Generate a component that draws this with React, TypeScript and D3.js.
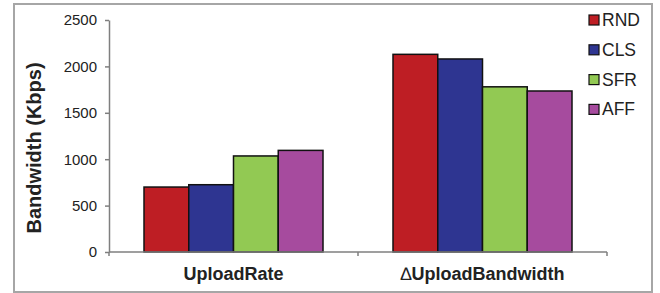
import { useEffect, useRef } from 'react';
import * as d3 from 'd3';

const categories = ['UploadRate', 'UploadBandwidth'];
const series = ['RND', 'CLS', 'SFR', 'AFF'];
const colors = ['#BE1E24', '#2E3591', '#92C953', '#A64B9E'];
const values = [
  [700, 2130],
  [725, 2080],
  [1035, 1780],
  [1095, 1735],
];
const yTicks = [0, 500, 1000, 1500, 2000, 2500];

const App = () => {
  const svgRef = useRef<SVGSVGElement>(null);

  useEffect(() => {
    const svg = d3.select(svgRef.current);
    svg.selectAll('*').remove();

    const width = 660;
    const height = 293;
    const marginLeft = 109;
    const marginRight = 53;
    const marginTop = 20;
    const marginBottom = 41;
    const font = 'Arial, "Liberation Sans", sans-serif';

    svg.attr('width', width).attr('height', height);

    // outer frame
    svg.append('rect')
      .attr('x', 14).attr('y', 4)
      .attr('width', 638).attr('height', 288)
      .attr('fill', 'white')
      .attr('stroke', '#a6a6a6')
      .attr('stroke-width', 2);

    const x = d3.scaleBand()
      .domain(categories)
      .range([marginLeft, width - marginRight])
      .paddingInner(0)
      .paddingOuter(0);

    const inner = d3.scaleBand()
      .domain(series)
      .range([35, x.bandwidth() - 35]);

    const y = d3.scaleLinear()
      .domain([0, 2500])
      .range([height - marginBottom, marginTop]);

    // bars
    series.forEach((s, si) => {
      svg.append('g')
        .selectAll('rect')
        .data(categories)
        .join('rect')
          .attr('x', c => x(c)! + inner(s)!)
          .attr('y', (c, ci) => y(values[si][ci]))
          .attr('width', inner.bandwidth())
          .attr('height', (c, ci) => y(0) - y(values[si][ci]))
          .attr('fill', colors[si])
          .attr('stroke', '#111')
          .attr('stroke-width', 1.5);
    });

    // y axis
    const yAxis = svg.append('g')
      .attr('transform', `translate(${marginLeft},0)`)
      .call(d3.axisLeft(y).tickValues(yTicks).tickFormat(d3.format('d'))
        .tickSize(4).tickPadding(8).tickSizeOuter(0));
    yAxis.selectAll('path, line').attr('stroke', '#7f7f7f').attr('stroke-width', 1.5);
    yAxis.selectAll('text')
      .attr('font-family', font)
      .attr('font-size', 15)
      .attr('fill', '#222');

    // x axis
    const xAxisG = svg.append('g')
      .attr('transform', `translate(0,${y(0)})`);
    xAxisG.append('line')
      .attr('x1', marginLeft).attr('x2', width - marginRight)
      .attr('stroke', '#7f7f7f').attr('stroke-width', 1.5);
    const bounds = [...categories.map(c => x(c)!), x.range()[1]];
    xAxisG.selectAll('line.tick')
      .data(bounds)
      .join('line')
        .attr('class', 'tick')
        .attr('x1', d => d).attr('x2', d => d)
        .attr('y1', 0).attr('y2', 4)
        .attr('stroke', '#7f7f7f').attr('stroke-width', 1.5);

    const labels = xAxisG.selectAll('text')
      .data(categories)
      .join('text')
        .attr('x', c => x(c)! + x.bandwidth() / 2)
        .attr('y', 28)
        .attr('text-anchor', 'middle')
        .attr('font-family', font)
        .attr('font-size', 18)
        .attr('font-weight', 'bold')
        .attr('fill', '#222');
    labels.each(function (c) {
      const t = d3.select(this);
      if (c === 'UploadBandwidth') {
        t.append('tspan').attr('font-weight', 'normal').text('\u2206');
      }
      t.append('tspan').text(c);
    });

    // y title
    svg.append('text')
      .attr('transform', `translate(41,148) rotate(-90)`)
      .attr('text-anchor', 'middle')
      .attr('font-family', font)
      .attr('font-size', 20)
      .attr('font-weight', 'bold')
      .attr('fill', '#222')
      .text('Bandwidth (Kbps)');

    // legend
    const legend = svg.append('g').attr('transform', 'translate(589,15)');
    series.forEach((s, i) => {
      const g = legend.append('g').attr('transform', `translate(0,${i * 29.8})`);
      g.append('rect')
        .attr('width', 10).attr('height', 10)
        .attr('fill', colors[i])
        .attr('stroke', '#111')
        .attr('stroke-width', 1.2);
      g.append('text')
        .attr('x', 13).attr('y', 11)
        .attr('font-family', font)
        .attr('font-size', 17.5)
        .attr('fill', '#222')
        .text(s);
    });
  }, []);

  return <svg ref={svgRef} style={{ position: 'absolute', left: 0, top: 0 }} />;
};

export default App;
